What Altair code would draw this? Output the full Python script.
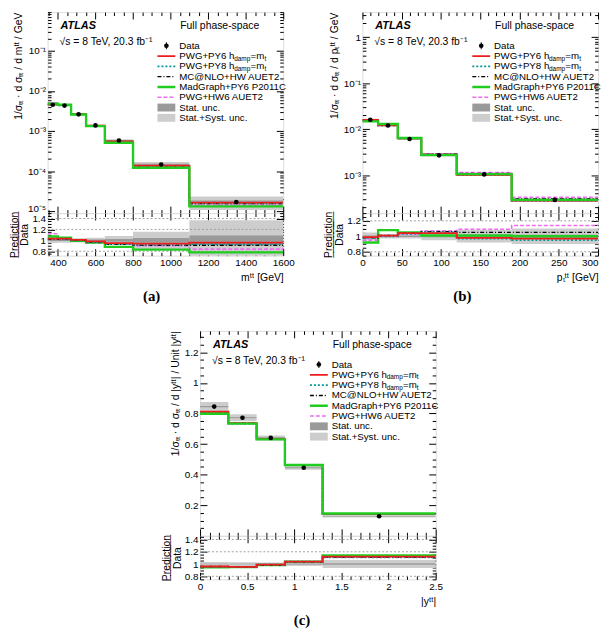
import altair as alt
import pandas as pd
import numpy as np

FONT = "Liberation Sans"
SERIF = "Liberation Serif"

# ---------------- panel (a): m(tt) ----------------
A_EDGES = [345, 400, 470, 550, 650, 800, 1100, 1600]
A_DATA = [4.5e-3, 4.3e-3, 2.6e-3, 1.38e-3, 5.8e-4, 1.46e-4, 1.7e-5]
A_STAT = [0.01, 0.01, 0.012, 0.015, 0.025, 0.045, 0.09]
A_TOT = [0.05, 0.045, 0.04, 0.05, 0.08, 0.16, 0.37]
A_R_PY6 = [1.03, 1.03, 1.01, 0.98, 0.95, 0.94, 0.96]
A_R_PY8 = [1.03, 1.02, 1.00, 0.97, 0.93, 0.92, 0.93]
A_R_MCNLO = [1.02, 1.02, 1.00, 0.97, 0.93, 0.91, 0.91]
A_R_MG = [1.07, 1.05, 0.99, 0.96, 0.88, 0.83, 0.78]
A_R_HW6 = [1.12, 1.03, 0.99, 0.95, 0.93, 0.90, 0.84]

# ---------------- panel (b): pT(tt) ----------------
B_EDGES = [0, 20, 45, 75, 120, 190, 300]
B_DATA = [1.6e-2, 1.2e-2, 6.1e-3, 2.7e-3, 1.04e-3, 2.9e-4]
B_STAT = [0.01, 0.008, 0.01, 0.012, 0.015, 0.02]
B_TOT = [0.05, 0.03, 0.03, 0.05, 0.08, 0.10]
B_R_PY6 = [0.99, 1.01, 1.04, 1.04, 0.98, 0.97]
B_R_PY8 = [0.98, 1.00, 1.03, 1.05, 0.97, 0.95]
B_R_MCNLO = [0.98, 1.01, 1.04, 1.06, 1.05, 1.05]
B_R_MG = [0.92, 1.08, 1.05, 1.01, 1.01, 1.00]
B_R_HW6 = [0.95, 1.00, 1.03, 1.07, 1.09, 1.14]

# ---------------- panel (c): |y(tt)| ----------------
C_EDGES = [0, 0.3, 0.6, 0.9, 1.3, 2.5]
C_DATA = [0.845, 0.772, 0.64, 0.445, 0.128]
C_STAT = [0.005, 0.005, 0.006, 0.008, 0.012]
C_TOT = [0.035, 0.03, 0.025, 0.03, 0.065]
C_R_PY6 = [0.96, 0.955, 0.99, 1.04, 1.12]
C_R_PY8 = [0.955, 0.95, 0.99, 1.04, 1.11]
C_R_MCNLO = [0.96, 0.955, 0.985, 1.035, 1.11]
C_R_MG = [0.945, 0.95, 0.985, 1.04, 1.14]
C_R_HW6 = [0.955, 0.95, 0.99, 1.04, 1.11]

# ---------------- styles ----------------
W = 238
STAT_COL = "#9a9a9a"
SYST_COL = "#cdcdcd"
# key, colour, dash, width
STYLE = {
    "hw6": ("#f06cf0", [4, 2], 1.6),
    "mg": ("#1fcc1f", [1, 0], 2.4),
    "mcnlo": ("#000000", [4, 2, 1, 2], 1.4),
    "py8": ("#009999", [2, 2], 1.8),
    "py6": ("#ee1c1c", [1, 0], 1.8),
}
MAIN_ORDER = ["hw6", "mcnlo", "py8", "py6", "mg"]
RATIO_ORDER = ["hw6", "mg", "mcnlo", "py8", "py6"]
ONE = pd.DataFrame({"o": [0]})

SUP = {"-": "\u207b", "0": "\u2070", "1": "\u00b9", "2": "\u00b2", "3": "\u00b3",
       "4": "\u2074", "5": "\u2075", "6": "\u2076", "7": "\u2077", "8": "\u2078", "9": "\u2079"}


def sup(n):
    return "".join(SUP[c] for c in str(n))


def log_label_expr(exps):
    expr = ""
    for e in sorted(exps):
        lab = "1" if e == 0 else "10" + sup(e)
        expr += "datum.value < %g ? '%s' : " % (3 * 10.0 ** e, lab)
    return expr + "''"


def log_minor(lo, hi, dom):
    out = []
    for e in range(lo, hi + 1):
        for k in range(2, 10):
            v = k * 10.0 ** e
            if dom[0] <= v <= dom[1]:
                out.append(v)
    return out


def lin_ticks(start, stop, step, dom, excl=()):
    n = int(round((stop - start) / step))
    vals = [round(start + i * step, 6) for i in range(n + 1)]
    return [v for v in vals if dom[0] <= v <= dom[1] and all(abs(v - e) > 1e-9 for e in excl)]


def ax(**kw):
    base = dict(grid=False, domain=False, tickColor="black", tickWidth=1,
                labelFont=FONT, labelFontSize=10, labelColor="black",
                titleFont=FONT, titleFontSize=10.5, titleFontWeight="normal", titleColor="black",
                labelFlush=False, labelOverlap=False, title=None, labels=False,
                minExtent=0)
    base.update(kw)
    return alt.Axis(**base)


def carriers(xs, ys, xmaj, xmin, ymaj, ymin, xlab_kw, ylab_kw):
    df = pd.DataFrame({"x": [xmaj[0]], "y": [ymaj[0]]})
    big, small = 7, 3.5
    specs = [
        (ax(orient="bottom", values=xmaj, tickSize=big, offset=-big, **xlab_kw),
         ax(orient="left", values=ymaj, tickSize=big, offset=-big, **ylab_kw)),
        (ax(orient="bottom", values=xmin, tickSize=small, offset=-small),
         ax(orient="left", values=ymin, tickSize=small, offset=-small)),
        (ax(orient="top", values=xmaj, tickSize=big, offset=-big),
         ax(orient="right", values=ymaj, tickSize=big, offset=-big)),
        (ax(orient="top", values=xmin, tickSize=small, offset=-small),
         ax(orient="right", values=ymin, tickSize=small, offset=-small)),
    ]
    return [alt.Chart(df).mark_point(opacity=0).encode(
        x=alt.X("x:Q", scale=xs, axis=a1), y=alt.Y("y:Q", scale=ys, axis=a2)) for a1, a2 in specs]


def step_layer(edges, vals, xs, ys, key):
    color, dash, width = STYLE[key]
    df = pd.DataFrame({"x": list(edges), "y": list(vals) + [vals[-1]]})
    return alt.Chart(df).mark_line(interpolate="step-after", color=color, strokeDash=dash,
                                   strokeWidth=width, clip=True).encode(
        x=alt.X("x:Q", scale=xs, axis=None), y=alt.Y("y:Q", scale=ys, axis=None))


def band_layer(edges, centers, rel, xs, ys, color):
    df = pd.DataFrame({"lo": edges[:-1], "hi": edges[1:],
                       "ylo": [c * (1 - r) for c, r in zip(centers, rel)],
                       "yhi": [c * (1 + r) for c, r in zip(centers, rel)]})
    return alt.Chart(df).mark_rect(color=color, clip=True).encode(
        x=alt.X("lo:Q", scale=xs, axis=None), x2="hi:Q",
        y=alt.Y("ylo:Q", scale=ys, axis=None), y2="yhi:Q")


def txt(x, y, s, size=9.8, weight="normal", style="normal"):
    return alt.Chart(ONE).mark_text(text=s, font=FONT, fontSize=size, fontWeight=weight,
                                    fontStyle=style, align="left", baseline="middle",
                                    color="black").encode(x=alt.value(x), y=alt.value(y))


def legend_layers():
    x0, x1, xt, y0, dy = 111, 129, 133, 34, 10.4
    out = []
    xc = (x0 + x1) / 2
    out.append(alt.Chart(ONE).mark_rule(color="black", strokeWidth=1).encode(
        x=alt.value(xc), y=alt.value(y0 - 3.5), y2=alt.value(y0 + 3.5)))
    out.append(alt.Chart(ONE).mark_circle(size=22, color="black", opacity=1).encode(
        x=alt.value(xc), y=alt.value(y0)))
    out.append(txt(xt, y0, "Data"))
    order = {"py6": 1, "py8": 2, "mcnlo": 3, "mg": 4, "hw6": 5}
    names = {"mcnlo": "MC@NLO+HW AUET2", "mg": "MadGraph+PY6 P2011C", "hw6": "PWG+HW6 AUET2"}
    for key in RATIO_ORDER:
        col, dash, wid = STYLE[key]
        y = y0 + order[key] * dy
        out.append(alt.Chart(ONE).mark_rule(color=col, strokeDash=dash, strokeWidth=wid).encode(
            x=alt.value(x0), x2=alt.value(x1), y=alt.value(y)))
        if key in names:
            out.append(txt(xt, y, names[key]))
        else:
            head = "PWG+PY6 h" if key == "py6" else "PWG+PY8 h"
            out.append(txt(xt, y, head))
            out.append(txt(xt + 55.5, y + 2.5, "damp", size=6.5))
            out.append(txt(xt + 72, y, "=m"))
            out.append(txt(xt + 86, y + 2.5, "t", size=6.5))
    for i, (lab, col) in enumerate([("Stat. unc.", STAT_COL), ("Stat.+Syst. unc.", SYST_COL)]):
        y = y0 + (6 + i) * dy
        out.append(alt.Chart(ONE).mark_rect(color=col).encode(
            x=alt.value(x0), x2=alt.value(x1), y=alt.value(y - 4), y2=alt.value(y + 4)))
        out.append(txt(xt, y, lab))
    out.append(txt(13, 14, "ATLAS", size=11, weight="bold", style="italic"))
    out.append(txt(12, 30, "\u221as = 8 TeV, 20.3 fb\u207b\u00b9", size=10.5))
    out.append(txt(134, 14, "Full phase-space", size=10.5))
    return out


def panel(edges, data, stat, tot, ratios, xdom, xmaj, xmin, xfmt, xtitle, xlab_extra,
          ydom, ytype, ymaj, ymin, ylabkw, ytitle, rdom, rmaj, rmin, label, hm, hr):
    xs = alt.Scale(domain=xdom, nice=False, zero=False)
    ys = alt.Scale(domain=ydom, type=ytype, nice=False, zero=False)
    rs = alt.Scale(domain=rdom, nice=False, zero=False)
    centers = [(a + b) / 2 for a, b in zip(edges[:-1], edges[1:])]

    main_layers = carriers(xs, ys, xmaj, xmin, ymaj, ymin, {},
                           dict(labels=True, labelPadding=2, title=ytitle, titleAnchor="end",
                                titlePadding=4, **ylabkw))
    main_layers.append(band_layer(edges, data, tot, xs, ys, SYST_COL))
    main_layers.append(band_layer(edges, data, stat, xs, ys, STAT_COL))
    for key in MAIN_ORDER:
        pred = [d * r for d, r in zip(data, ratios[key])]
        main_layers.append(step_layer(edges, pred, xs, ys, key))
    pts = pd.DataFrame({"x": centers, "y": data,
                        "lo": [d * (1 - s) for d, s in zip(data, stat)],
                        "hi": [d * (1 + s) for d, s in zip(data, stat)]})
    main_layers.append(alt.Chart(pts).mark_rule(color="black", strokeWidth=1).encode(
        x=alt.X("x:Q", scale=xs, axis=None), y=alt.Y("lo:Q", scale=ys, axis=None), y2="hi:Q"))
    main_layers.append(alt.Chart(pts).mark_circle(size=22, color="black", opacity=1).encode(
        x=alt.X("x:Q", scale=xs, axis=None), y=alt.Y("y:Q", scale=ys, axis=None)))
    main_layers += legend_layers()
    main = alt.layer(*main_layers).resolve_axis(x="independent", y="independent").properties(
        width=W, height=hm)

    ones = [1.0] * len(data)
    r_layers = carriers(xs, rs, xmaj, xmin, rmaj, rmin,
                        dict(labels=True, labelPadding=2, format=xfmt, title=xtitle,
                             titleAnchor="end", titlePadding=5, **xlab_extra),
                        dict(labels=True, labelPadding=2, format="~g",
                             title=["P\u0332r\u0332e\u0332d\u0332i\u0332c\u0332t\u0332i\u0332o\u0332n\u0332", "Data"],
                             titleAnchor="middle", titlePadding=2, titleLineHeight=11))
    r_layers.append(band_layer(edges, ones, tot, xs, rs, SYST_COL))
    r_layers.append(band_layer(edges, ones, stat, xs, rs, STAT_COL))
    grid = pd.DataFrame({"v": [v for v in [0.8, 1.2, 1.4] if rdom[0] < v < rdom[1]]})
    r_layers.append(alt.Chart(grid).mark_rule(color="#a0a0a0", strokeDash=[2, 2], strokeWidth=1).encode(
        y=alt.Y("v:Q", scale=rs, axis=None)))
    for key in RATIO_ORDER:
        r_layers.append(step_layer(edges, ratios[key], xs, rs, key))
    ratio = alt.layer(*r_layers).resolve_axis(x="independent", y="independent").properties(
        width=W, height=hr)

    return alt.vconcat(main, ratio, spacing=0, bounds="flush").resolve_scale(
        x="independent", y="independent").properties(
        title=alt.TitleParams(label, orient="bottom", anchor="middle", font=SERIF, fontSize=15,
                              fontWeight="bold", color="black", offset=6))


# ---- build panels ----
a_ydom = [9e-6, 0.92]
pa = panel(A_EDGES, A_DATA, A_STAT, A_TOT,
           {"py6": A_R_PY6, "py8": A_R_PY8, "mcnlo": A_R_MCNLO, "mg": A_R_MG, "hw6": A_R_HW6},
           [345, 1600], lin_ticks(400, 1600, 200, [345, 1600]),
           lin_ticks(350, 1600, 50, [345, 1600], lin_ticks(400, 1600, 200, [345, 1600])),
           "d", "m\u1d57\u1d57 [GeV]", {},
           a_ydom, "log", [1e-5, 1e-4, 1e-3, 1e-2, 1e-1], log_minor(-6, -1, a_ydom),
           dict(labelExpr=log_label_expr([-5, -4, -3, -2, -1, 0]),
                labelBaseline={"condition": {"test": "datum.value < 2e-5", "value": "alphabetic"},
                               "value": "middle"}),
           "1/\u03c3\u209c\u209c \u00b7 d \u03c3\u209c\u209c / d m\u1d57\u1d57 / GeV",
           [0.72, 1.5], [0.8, 1.0, 1.2, 1.4], lin_ticks(0.75, 1.5, 0.05, [0.72, 1.5], [0.8, 1.0, 1.2, 1.4]),
           "(a)", 203, 43)

b_ydom = [1.5e-4, 3.5]
pb = panel(B_EDGES, B_DATA, B_STAT, B_TOT,
           {"py6": B_R_PY6, "py8": B_R_PY8, "mcnlo": B_R_MCNLO, "mg": B_R_MG, "hw6": B_R_HW6},
           [0, 300], lin_ticks(0, 300, 50, [0, 300]),
           lin_ticks(0, 300, 10, [0, 300], lin_ticks(0, 300, 50, [0, 300])),
           "d", "p\u209c\u1d57\u1d57 [GeV]",
           dict(labelAlign={"condition": {"test": "datum.value >= 299", "value": "right"},
                            "value": "center"}),
           b_ydom, "log", [1e-3, 1e-2, 1e-1, 1], log_minor(-4, 0, b_ydom),
           dict(labelExpr=log_label_expr([-4, -3, -2, -1, 0])),
           "1/\u03c3\u209c\u209c \u00b7 d \u03c3\u209c\u209c / d p\u209c\u1d57\u1d57 / GeV",
           [0.75, 1.3], [0.8, 1.0, 1.2], lin_ticks(0.75, 1.3, 0.05, [0.75, 1.3], [0.8, 1.0, 1.2]),
           "(b)", 203, 43)

c_ydom = [0.0, 1.34]
pc = panel(C_EDGES, C_DATA, C_STAT, C_TOT,
           {"py6": C_R_PY6, "py8": C_R_PY8, "mcnlo": C_R_MCNLO, "mg": C_R_MG, "hw6": C_R_HW6},
           [0, 2.5], lin_ticks(0, 2.5, 0.5, [0, 2.5]),
           lin_ticks(0, 2.5, 0.1, [0, 2.5], lin_ticks(0, 2.5, 0.5, [0, 2.5])),
           "~g", "|y\u1d57\u1d57|", {},
           c_ydom, "linear", lin_ticks(0.2, 1.2, 0.2, c_ydom),
           lin_ticks(0.05, 1.3, 0.05, c_ydom, lin_ticks(0.2, 1.2, 0.2, c_ydom)),
           dict(format="~g"),
           "1/\u03c3\u209c\u209c \u00b7 d \u03c3\u209c\u209c / d |y\u1d57\u1d57| / Unit |y\u1d57\u1d57|",
           [0.75, 1.46], [0.8, 1.0, 1.2, 1.4], lin_ticks(0.75, 1.46, 0.05, [0.75, 1.46], [0.8, 1.0, 1.2, 1.4]),
           "(c)", 207, 44)

spacer = alt.Chart(ONE).mark_point(opacity=0).encode(
    x=alt.X("o:Q", axis=None), y=alt.Y("o:Q", axis=None)).properties(
    width=113, height=10, view=alt.ViewBackground(stroke="transparent"))

top = alt.hconcat(pa, pb, spacing=28).resolve_scale(x="independent", y="independent")
bottom = alt.hconcat(spacer, pc, spacing=0).resolve_scale(x="independent", y="independent")
chart = alt.vconcat(top, bottom, spacing=26).resolve_scale(x="independent", y="independent").properties(
    padding={"left": 0, "top": 0, "right": 0, "bottom": 0}
).configure_view(stroke="black", strokeWidth=1).configure(font=FONT)

chart.save("out.html", embed_options={"renderer": "svg", "actions": False})
